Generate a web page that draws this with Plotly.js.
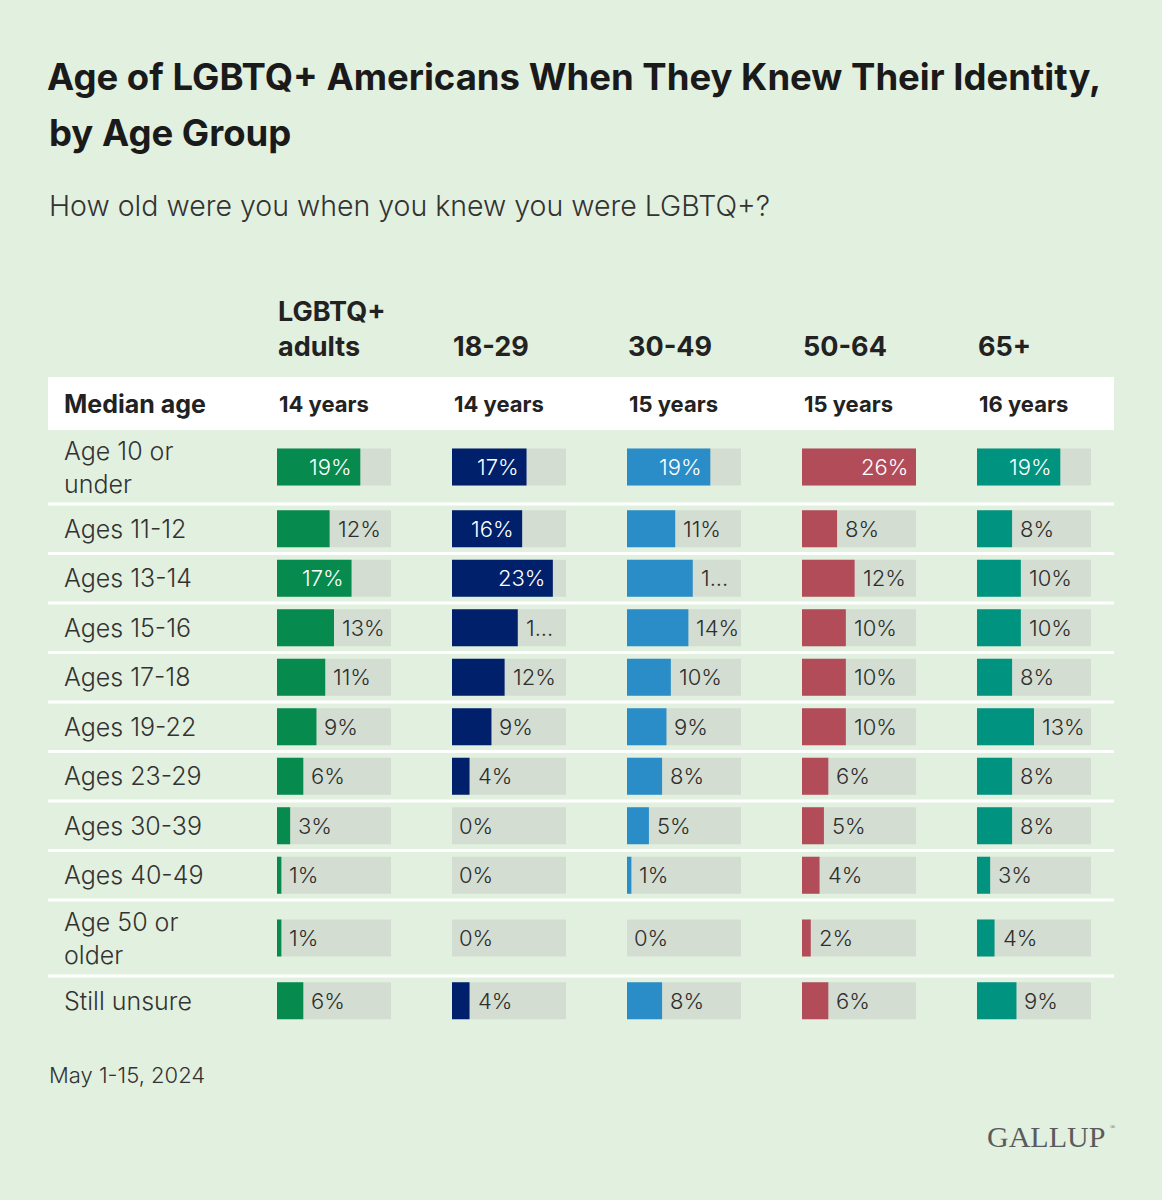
<!DOCTYPE html>
<html>
<head>
<meta charset="utf-8">
<script src="https://cdn.plot.ly/plotly-3.0.1.min.js"></script>
<style>html,body{margin:0;padding:0;background:#e2f0df;}#chart{width:1162px;height:1200px;}</style>
</head>
<body>
<div id="chart"></div>
<script>
// ---- data ----
const rowLabels = ["Age 10 or\nunder", "Ages 11-12", "Ages 13-14", "Ages 15-16", "Ages 17-18", "Ages 19-22", "Ages 23-29", "Ages 30-39", "Ages 40-49", "Age 50 or\nolder", "Still unsure"];
const groupLabels = ["LGBTQ+\nadults", "18-29", "30-49", "50-64", "65+"];
const medianAge = ["14 years", "14 years", "15 years", "15 years", "16 years"];
const lgbtqAdults = [19, 12, 17, 13, 11, 9, 6, 3, 1, 1, 6];
const ages18to29 = [17, 16, 23, 15, 12, 9, 4, 0, 0, 0, 4];
const ages30to49 = [19, 11, 15, 14, 10, 9, 8, 5, 1, 0, 8];
const ages50to64 = [26, 8, 12, 10, 10, 10, 6, 5, 4, 2, 6];
const ages65plus = [19, 8, 10, 10, 8, 13, 8, 8, 3, 4, 9];
const trackMax = 26;

// ---- layout / style ----
const W = 1162, H = 1200;
const BG = "#e2f0df";
const FONT = "Inter, Roboto, 'Liberation Sans', sans-serif";
const colors = ["#078a4e", "#00206b", "#2a8dc7", "#b14c58", "#00937f"];
const trackColor = "#d3ddd2";
const colX = [277, 452, 627, 802, 977];
const trackW = 114;
const rowHeights = [74, 49.5, 49.5, 49.5, 49.5, 49.5, 49.5, 49.5, 49.5, 76, 49.5];
const headerH = 53;           // median-age band height (px)
const tableTopPx = 377;
const barH = 37;
const insideMin = 16;         // values at/above this get a label inside the bar
const truncateAt = 15;        // outside labels this large do not fit
const series = [lgbtqAdults, ages18to29, ages30to49, ages50to64, ages65plus];

const py = p => 1 - p / H;
const px = p => p / W;

const centers = [], bounds = [];
let acc = 0;
rowHeights.forEach(h => { centers.push(acc + h / 2); acc += h; bounds.push(acc); });
const totalH = acc;

const traces = [];
const layout = {
  width: W, height: H,
  paper_bgcolor: BG, plot_bgcolor: BG,
  margin: {l: 0, r: 0, t: 0, b: 0},
  showlegend: false,
  barmode: "overlay",
  font: {family: FONT, color: "#2a2a2a"},
  title: {
    text: "<b>Age of LGBTQ+ Americans When They Knew Their Identity,</b>",
    x: px(47), xanchor: "left", xref: "paper",
    y: py(77), yanchor: "middle", yref: "paper",
    font: {size: 36.5, color: "#1a1a1a"}
  },
  yaxis: {
    domain: [py(tableTopPx + headerH + totalH), py(tableTopPx)],
    range: [totalH, -headerH],
    showgrid: false, zeroline: false, showticklabels: false, showline: false, ticks: "",
    fixedrange: true
  },
  shapes: [],
  annotations: []
};

layout.shapes.push({type: "rect", xref: "paper", yref: "y", x0: px(48), x1: px(1114), y0: -headerH, y1: 0,
  fillcolor: "#ffffff", line: {width: 0}, layer: "below"});
bounds.slice(0, -1).forEach(b => {
  layout.shapes.push({type: "line", xref: "paper", yref: "y", x0: px(48), x1: px(1114), y0: b, y1: b,
    line: {color: "#ffffff", width: 3}, layer: "below"});
});

series.forEach((vals, i) => {
  const ax = i === 0 ? "x" : "x" + (i + 1);
  const axKey = i === 0 ? "xaxis" : "xaxis" + (i + 1);
  layout[axKey] = {
    domain: [px(colX[i]), px(colX[i] + trackW)],
    range: [0, trackMax], anchor: "y",
    showgrid: false, zeroline: false, showticklabels: false, showline: false, ticks: "",
    fixedrange: true
  };
  traces.push({type: "bar", orientation: "h", x: rowLabels.map(() => trackMax), y: centers, width: barH,
    xaxis: ax, yaxis: "y", marker: {color: trackColor, line: {width: 0}}, hoverinfo: "skip"});
  traces.push({type: "bar", orientation: "h", x: vals, y: centers, width: barH,
    xaxis: ax, yaxis: "y", marker: {color: colors[i], line: {width: 0}},
    hovertemplate: groupLabels[i].replace("\n", " ") + ": %{x}%<extra></extra>"});

  vals.forEach((v, r) => {
    const inside = v >= insideMin;
    let t = v + "%";
    if (!inside && v >= truncateAt) t = t.slice(0, 1) + "...";
    layout.annotations.push({
      xref: ax, yref: "y", x: v, y: centers[r],
      text: t, showarrow: false,
      xanchor: inside ? "right" : "left", yanchor: "middle",
      xshift: inside ? -6 : (v === 0 ? 5 : 6),
      font: {size: 22, weight: 300, color: inside ? "#ffffff" : "#2e2e2e"}
    });
  });

  layout.annotations.push({
    xref: "paper", yref: "paper", x: px(colX[i] - 1), y: py(365),
    text: "<b>" + groupLabels[i].split("\n").join("<br>") + "</b>", showarrow: false,
    xanchor: "left", yanchor: "bottom", align: "left",
    font: {size: 27, color: "#222222"}
  });
  layout.annotations.push({
    xref: "paper", yref: "y", x: px(colX[i]), y: -headerH / 2,
    text: "<b>" + medianAge[i] + "</b>", showarrow: false, xanchor: "left", yanchor: "middle",
    font: {size: 22, color: "#222222"}
  });
});

rowLabels.forEach((lab, r) => {
  layout.annotations.push({
    xref: "paper", yref: "y", x: px(62), y: centers[r],
    text: lab.split("\n").join("<br>"), showarrow: false, xanchor: "left", yanchor: "middle", align: "left",
    font: {size: 25, weight: 300, color: "#333333"}
  });
});
layout.annotations.push({
  xref: "paper", yref: "y", x: px(62), y: -headerH / 2,
  text: "<b>Median age</b>", showarrow: false, xanchor: "left", yanchor: "middle",
  font: {size: 25, color: "#222222"}
});

layout.annotations.push({xref: "paper", yref: "paper", x: px(47), y: py(133), text: "<b>by Age Group</b>",
  showarrow: false, xanchor: "left", yanchor: "middle", font: {size: 36.5, color: "#1a1a1a"}});
layout.annotations.push({xref: "paper", yref: "paper", x: px(47), y: py(206),
  text: "How old were you when you knew you were LGBTQ+?",
  showarrow: false, xanchor: "left", yanchor: "middle", font: {size: 28.5, weight: 300, color: "#333333"}});
layout.annotations.push({xref: "paper", yref: "paper", x: px(47), y: py(1075), text: "May 1-15, 2024",
  showarrow: false, xanchor: "left", yanchor: "middle", font: {size: 22, weight: 300, color: "#333333"}});
layout.annotations.push({xref: "paper", yref: "paper", x: px(1107), y: py(1136),
  text: "GALLUP",
  showarrow: false, xanchor: "right", yanchor: "middle",
  font: {family: "'Liberation Serif', 'DejaVu Serif', serif", size: 30, color: "#5b5b5b"}});
layout.annotations.push({xref: "paper", yref: "paper", x: px(1108), y: py(1127),
  text: "®", showarrow: false, xanchor: "left", yanchor: "middle",
  font: {family: "'Liberation Serif', serif", size: 7, color: "#5b5b5b"}});

Plotly.newPlot("chart", traces, layout, {displayModeBar: false, staticPlot: true});
</script>
</body>
</html>
